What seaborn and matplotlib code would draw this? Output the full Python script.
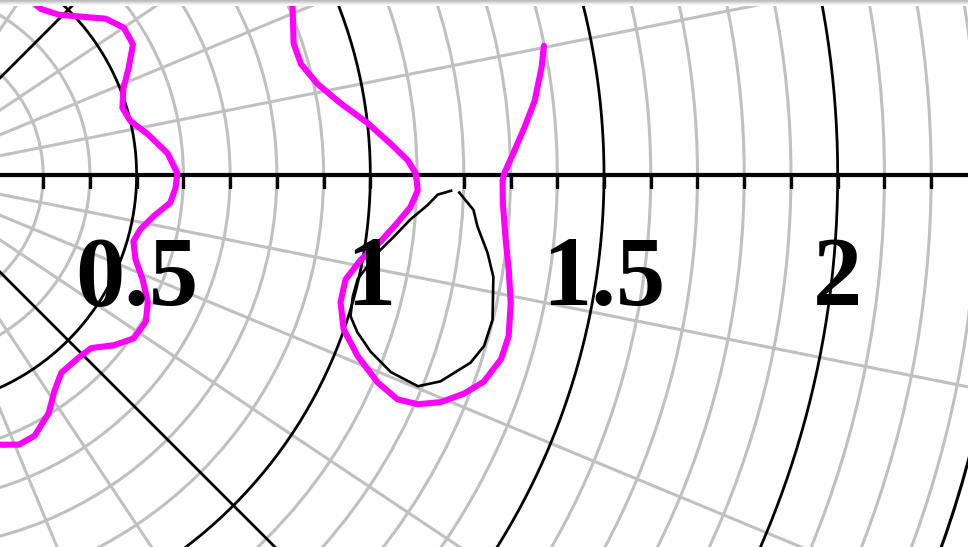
import numpy as np
import pandas as pd
import matplotlib
matplotlib.use("Agg")
import matplotlib.pyplot as plt
import seaborn as sns

# curve 1 (magenta, inner wavy ring) - theta in degrees, radius
inner_theta = [55.2, 50.2, 45.7, 37.6, 33.7, 29.6, 25.3, 21.5, 17.0, 13.4, 9.6, 4.7,
               0.4, -2.7, -5.9, -9.4, -12.9, -16.0, -19.9, -23.5, -27.4, -31.1,
               -35.3, -38.9, -42.6, -46.3, -51.3, -54.9, -58.5, -63.2, -66.7,
               -69.8, -73.0]
inner_r = [0.463, 0.462, 0.479, 0.548, 0.568, 0.566, 0.534, 0.507, 0.491, 0.500,
           0.530, 0.568, 0.587, 0.584, 0.575, 0.543, 0.521, 0.513, 0.529, 0.559,
           0.590, 0.607, 0.605, 0.580, 0.547, 0.542, 0.542, 0.564, 0.597, 0.625,
           0.628, 0.615, 0.600]

# curve 2 (magenta, loop)
loop_theta = [25.3, 23.2, 18.6, 15.6, 12.4, 9.3, 6.4, 3.7, 1.7, 0.2, -1.7, -3.6,
              -5.5, -7.9, -10.5, -13.3, -16.2, -19.3, -21.7, -23.6, -24.4, -24.0,
              -22.9, -21.3, -19.6, -17.1, -14.9, -11.9, -8.9, -5.9, -2.7, -0.5,
              0.2, 1.7, 4.4, 6.7, 9.6, 11.4]
loop_r = [0.920, 0.907, 0.882, 0.884, 0.908, 0.949, 1.000, 1.045, 1.080, 1.097,
          1.102, 1.088, 1.063, 1.032, 0.996, 0.973, 0.975, 0.999, 1.047, 1.108,
          1.162, 1.206, 1.249, 1.288, 1.319, 1.339, 1.341, 1.329, 1.312, 1.296,
          1.285, 1.283, 1.287, 1.303, 1.334, 1.361, 1.386, 1.399]

# curve 3 (black, thin loop)
thin_theta = [-1.6, -2.1, -3.3, -5.0, -7.2, -9.3, -11.1, -12.9, -15.1, -17.5,
              -19.1, -20.7, -22.0, -22.3, -21.0, -18.3, -16.4, -13.8, -9.8, -7.6,
              -5.1, -3.5, -1.7]
thin_r = [1.176, 1.145, 1.124, 1.090, 1.058, 1.029, 1.013, 0.998, 0.997, 1.004,
          1.029, 1.070, 1.126, 1.191, 1.232, 1.279, 1.296, 1.299, 1.282, 1.262,
          1.234, 1.223, 1.189]

# grid
r_max = 2.36
r_minor = [0.1, 0.2, 0.3, 0.4, 0.6, 0.7, 0.8, 0.9, 1.1, 1.2, 1.3, 1.4, 1.6, 1.7,
           1.8, 1.9, 2.1, 2.2, 2.3]
r_major = [0.5, 1.0, 1.5, 2.0]
r_labels = ["0.5", "1", "1.5", "2"]
r_ticks = sorted(r_minor + r_major)
theta_major = [0, 45, 90, 135, 180, 225, 270, 315]
theta_minor = [t * 11.25 for t in range(32) if t % 4]

sns.set_theme(style="white")
plt.rcParams["font.family"] = ["Liberation Serif", "DejaVu Serif"]

fig = plt.figure(figsize=(9.68, 5.47), dpi=100)
# centre sits left of the figure, so the polar axes is much bigger than it
ax = fig.add_axes([-1.2397, -1.3364, 2.2789, 4.0329], projection="polar")
ax.set_rlim(0, r_max)
ax.set_xticks(np.deg2rad(theta_major))
ax.set_xticks(np.deg2rad(theta_minor), minor=True)
ax.set_yticks(r_major)
ax.set_yticks(r_minor, minor=True)
ax.set_xticklabels([])
ax.set_yticklabels([])
ax.tick_params(which="both", length=0)
ax.grid(False, which="major")
ax.grid(True, which="minor", color="#c0c0c0", linewidth=2.2)
ax.spines["polar"].set_color("black")
ax.spines["polar"].set_linewidth(2.2)

circ = np.linspace(0, 2 * np.pi, 721)
for r in r_major:
    ax.plot(circ, np.full_like(circ, r), color="black", lw=2.0, zorder=2)
for t in theta_major[1:]:
    ax.plot([np.deg2rad(t)] * 2, [0, r_max], color="black", lw=2.0, zorder=2)

# radial axis along theta = 0 with downward ticks
ax.plot([0, 0], [0, r_max], color="black", lw=3.0, zorder=3)
ax.plot(np.zeros(len(r_ticks)), r_ticks, ls="none", marker=3, markersize=9.4,
        markeredgewidth=2.4, color="black", zorder=3)
for r, lab in zip(r_major, r_labels):
    ax.annotate(lab, xy=(0, r), xytext=(0, -130), textcoords="offset pixels",
                ha="center", va="baseline", fontsize=71, fontweight="bold",
                color="black", zorder=5)

curves = pd.concat([
    pd.DataFrame({"theta": np.deg2rad(inner_theta), "r": inner_r, "curve": "inner"}),
    pd.DataFrame({"theta": np.deg2rad(loop_theta), "r": loop_r, "curve": "loop"}),
])
sns.lineplot(data=curves, x="theta", y="r", units="curve", estimator=None,
             sort=False, color="#ff00ff", lw=4.4, ax=ax, zorder=4,
             solid_joinstyle="round", solid_capstyle="round")
sns.lineplot(x=np.deg2rad(thin_theta), y=thin_r, estimator=None, sort=False,
             color="black", lw=1.9, ax=ax, zorder=4,
             solid_joinstyle="round", solid_capstyle="butt")
ax.set_xlabel("")
ax.set_ylabel("")
ax.set_rlim(0, r_max)

# faint shadow band along the top edge
band = fig.add_axes([0, 1 - 6 / 547, 1, 6 / 547])
band.imshow(np.array([[0.74], [0.78], [0.85], [0.91], [0.96], [0.99]]),
            cmap="gray", vmin=0, vmax=1, aspect="auto")
band.axis("off")

fig.savefig("out.png", dpi=100)
